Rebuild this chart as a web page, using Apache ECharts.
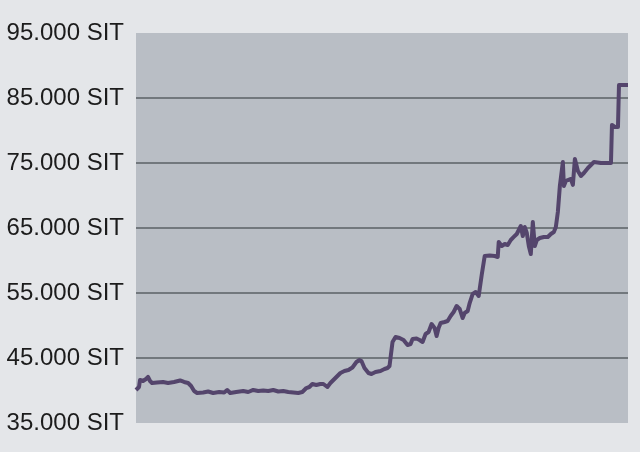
<!DOCTYPE html>
<html>
<head>
<meta charset="utf-8">
<script src="https://cdn.jsdelivr.net/npm/echarts@6/dist/echarts.min.js"></script>
<style>
html,body{margin:0;padding:0;background:#e4e6e9;}
#chart{width:640px;height:452px;}
</style>
</head>
<body>
<div id="chart"></div>
<script>
// time index (trading periods) and price in SIT
var period = [0,3,4,7,10,12,14,16,21,27,32,38,44,48,52,55,58,61,67,72,77,83,88,91,94,100,107,112,117,122,127,132,137,142,147,152,157,162,166,170,173,176,180,184,187,191,194,199,204,208,212,216,220,223,225,228,232,235,239,244,248,251,253,254,256,259,263,267,271,274,276,280,283,286,289,292,295,298,300,302,304,308,311,314,317,320,323,326,328,331,333,336,339,342,345,348,353,358,361,362,365,368,371,374,377,380,382,384,386,388,390,392,394,396,398,400,403,407,411,414,417,419,421,423,426,427,429,431,434,436,438,441,444,447,451,454,457,464,470,474,475,478,481,482,486,491];
var price = [40080,40540,41620,41460,41770,42080,41460,41150,41230,41310,41150,41310,41540,41310,41150,40690,39920,39620,39690,39850,39620,39770,39690,40080,39620,39770,39920,39770,40080,39920,40000,39920,40080,39850,39920,39770,39690,39620,39770,40380,40540,41000,40850,41000,41000,40540,41150,41920,42690,43000,43150,43540,44380,44690,44540,43460,42690,42540,42850,43000,43310,43460,43770,43920,47460,48230,48080,47770,47000,47150,47920,48000,47770,47460,48690,49000,50230,49620,48380,49620,50380,50540,50690,51460,52080,53000,52540,51150,51920,52230,53460,54850,55150,54540,57770,60690,60770,60690,60540,62850,62230,62540,62380,63150,63620,64080,64690,65310,63770,65150,64230,62230,61000,65920,62230,63150,63460,63620,63620,64080,64380,65150,67460,71460,75150,71460,72230,72380,72540,71620,75620,73770,73000,73460,74230,74690,75150,75000,75000,75000,80850,80540,80540,87000,87000,87000];
var yTicks = [35000,45000,55000,65000,75000,85000,95000];

var data = period.map(function(p,i){return [p, price[i]];});
function fmt(v){
  var s = String(v);
  return s.replace(/\B(?=(\d{3})+(?!\d))/g,'.') + ' SIT';
}
var chart = echarts.init(document.getElementById('chart'), null, {renderer:'canvas'});
chart.setOption({
  backgroundColor:'#e4e6e9',
  animation:false,
  grid:{left:136,right:12,top:33,bottom:29,show:true,backgroundColor:'#b9bec5',borderWidth:0},
  xAxis:{type:'value',min:0,max:period[period.length-1],show:false},
  yAxis:{
    type:'value',min:yTicks[0],max:yTicks[yTicks.length-1],interval:10000,
    axisLine:{show:false},axisTick:{show:false},
    axisLabel:{formatter:function(v){return fmt(v);},color:'#1c1c1c',fontFamily:'Liberation Sans, Arial, sans-serif',fontSize:24,margin:12},
    splitLine:{show:true,lineStyle:{width:1.5,color:['rgba(0,0,0,0)','#5b6064','#5b6064','#5b6064','#5b6064','#5b6064','rgba(0,0,0,0)']}}
  },
  series:[{
    type:'line',data:data,symbol:'none',
    lineStyle:{color:'#54456c',width:4,join:'round'}
  }]
});
</script>
</body>
</html>
